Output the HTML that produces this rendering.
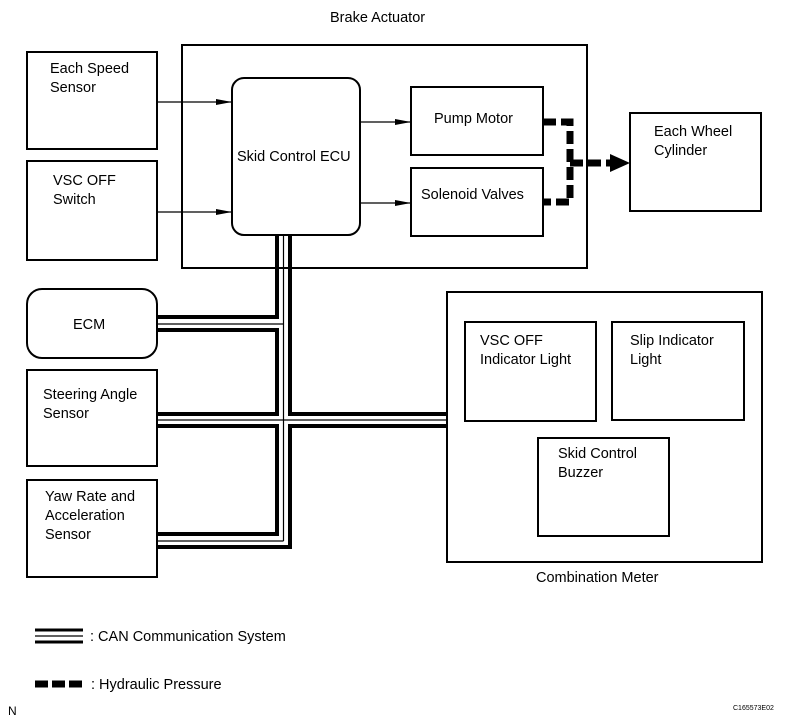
<!DOCTYPE html>
<html><head><meta charset="utf-8"><style>
html,body{margin:0;padding:0;background:#fff;}
svg text{font-family:"Liberation Sans",Arial,sans-serif;fill:#000;}
</style></head><body>
<svg width="792" height="723" viewBox="0 0 792 723" xmlns="http://www.w3.org/2000/svg">
<defs>
<marker id="ar" markerWidth="16" markerHeight="8" refX="16" refY="4" orient="auto" markerUnits="userSpaceOnUse">
<path d="M0,1 L16,4 L0,7 Z" fill="#000"/></marker>
</defs>
<g fill="none" stroke="#000" stroke-width="2">
<rect x="182" y="45" width="405" height="223"/>
<rect x="27" y="52" width="130" height="97"/>
<rect x="27" y="161" width="130" height="99"/>
<rect x="232" y="78" width="128" height="157" rx="12"/>
<rect x="411" y="87" width="132" height="68"/>
<rect x="411" y="168" width="132" height="68"/>
<rect x="630" y="113" width="131" height="98"/>
<rect x="27" y="289" width="130" height="69" rx="15"/>
<rect x="27" y="370" width="130" height="96"/>
<rect x="27" y="480" width="130" height="97"/>
<rect x="447" y="292" width="315" height="270"/>
<rect x="465" y="322" width="131" height="99"/>
<rect x="612" y="322" width="132" height="98"/>
<rect x="538" y="438" width="131" height="98"/>
</g>
<g stroke="#000" stroke-width="1.2" fill="none">
<line x1="157" y1="102" x2="232" y2="102" marker-end="url(#ar)"/>
<line x1="157" y1="212" x2="232" y2="212" marker-end="url(#ar)"/>
<line x1="360" y1="122" x2="411" y2="122" marker-end="url(#ar)"/>
<line x1="360" y1="203" x2="411" y2="203" marker-end="url(#ar)"/>
</g>
<g fill="none" stroke="#000" stroke-width="4">
<polyline points="157,317 277,317 277,235"/>
<polyline points="290,235 290,414 447,414"/>
<polyline points="157,330 277,330 277,414 157,414"/>
<polyline points="157,426 277,426 277,534 157,534"/>
<polyline points="447,426 290,426 290,547 157,547"/>
</g>
<g fill="none" stroke="#000" stroke-width="1.2">
<line x1="283.5" y1="235" x2="283.5" y2="541"/>
<line x1="157" y1="324" x2="283.5" y2="324"/>
<line x1="157" y1="420" x2="447" y2="420"/>
<line x1="157" y1="541" x2="283.5" y2="541"/>
</g>
<g fill="none" stroke="#000" stroke-width="7" stroke-dasharray="13,5">
<polyline points="543,122 570,122 570,202 543,202"/>
<line x1="570" y1="163" x2="614" y2="163"/>
</g>
<path d="M610,154 L630,163 L610,172 Z" fill="#000"/>
<g stroke="#000" fill="none">
<line x1="35" y1="630" x2="83" y2="630" stroke-width="3"/>
<line x1="35" y1="636" x2="83" y2="636" stroke-width="1.2"/>
<line x1="35" y1="642" x2="83" y2="642" stroke-width="3"/>
<line x1="35" y1="684" x2="84" y2="684" stroke-width="7" stroke-dasharray="13,4"/>
</g>
<g font-size="14.5">
<text x="330" y="22">Brake Actuator</text>
<text x="50" y="73">Each Speed</text><text x="50" y="92">Sensor</text>
<text x="53" y="185">VSC OFF</text><text x="53" y="204">Switch</text>
<text x="237" y="161">Skid Control ECU</text>
<text x="434" y="123">Pump Motor</text>
<text x="421" y="199">Solenoid Valves</text>
<text x="654" y="136">Each Wheel</text><text x="654" y="155">Cylinder</text>
<text x="73" y="329">ECM</text>
<text x="43" y="399">Steering Angle</text><text x="43" y="418">Sensor</text>
<text x="45" y="501">Yaw Rate and</text><text x="45" y="520">Acceleration</text><text x="45" y="539">Sensor</text>
<text x="480" y="345">VSC OFF</text><text x="480" y="364">Indicator Light</text>
<text x="630" y="345">Slip Indicator</text><text x="630" y="364">Light</text>
<text x="558" y="458">Skid Control</text><text x="558" y="477">Buzzer</text>
<text x="536" y="582">Combination Meter</text>
<text x="90" y="641">: CAN Communication System</text>
<text x="91" y="689">: Hydraulic Pressure</text>
<text x="8" y="715" font-size="12">N</text>
</g>
<text x="733" y="710" font-size="7">C165573E02</text>
</svg>
</body></html>
